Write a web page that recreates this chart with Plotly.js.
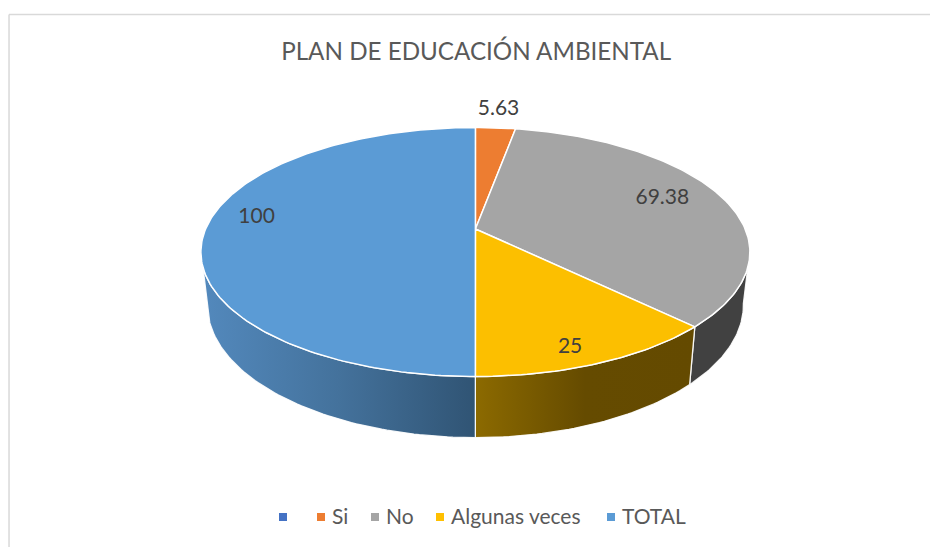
<!DOCTYPE html>
<html><head><meta charset="utf-8">
<script src="https://cdn.plot.ly/plotly-3.0.1.min.js"></script>
<style>html,body{margin:0;padding:0;background:#fff}#c{width:930px;height:547px}</style>
</head><body><div id="c"></div>
<script>
const categories = ["", "Si", "No", "Algunas veces", "TOTAL"];
const values = [0, 5.63, 69.38, 25, 100];
const labels = ["", "5.63", "69.38", "25", "100"];
const topColors = ["#4472C4", "#ED7D31", "#A5A5A5", "#FCBF00", "#5B9BD5"];
const legendColors = ["#4472C4", "#ED7D31", "#A5A5A5", "#FFC000", "#5B9BD5"];
const wallGradients = [
  null, null,
  [[0, "#414141"], [1, "#414141"]],
  [[0, "#8C6A00"], [0.5, "#654B00"], [1, "#644A00"]],
  [[0, "#5389BD"], [0.5, "#44729C"], [1, "#305474"]]
];
const labelRadius = [0, 1.24, 0.78, 0.875, 0.835];
const labelNudgeDeg = [0, -0.2, -3.5, 2.6, 7.6];
const keyX = [283, 321, 375, 440, 611];

// Tilted-disc view of the pie: projective map of a unit circle
const tilt = 0.185;
const topRim = {cx: 475.4, cy: 252, rx: 274.5, ry: 124.5};
const botRim = {cx: 475.4, cy: 305, rx: 268, ry: 132.6};
const wallFrom = 100, wallTo = 260;
const sum = values.reduce((a, b) => a + b, 0);

function project(deg, r, e) {
  const a = deg * Math.PI / 180, X = r * Math.sin(a), Y = r * Math.cos(a);
  const d = 1 + tilt * Y;
  return [e.cx + e.rx * X * Math.sqrt(1 - tilt * tilt) / d, e.cy - e.ry * (Y + tilt) / d];
}
function arc(from, to, e) {
  const pts = [], n = Math.max(2, Math.ceil(Math.abs(to - from)));
  for (let i = 0; i <= n; i++) pts.push(project(from + (to - from) * i / n, 1, e));
  return pts;
}
const spans = [];
let acc = 0;
values.forEach(v => { const s = acc / sum * 360; acc += v; spans.push([s, acc / sum * 360]); });

const traces = [];
// side walls
values.forEach((v, i) => {
  if (!wallGradients[i]) return;
  const a = Math.max(spans[i][0], wallFrom), b = Math.min(spans[i][1], wallTo);
  const pts = arc(a, b, topRim).concat(arc(b, a, botRim));
  pts.push(pts[0]);
  traces.push({type: "scatter", mode: "lines", x: pts.map(p => p[0]), y: pts.map(p => p[1]),
    fill: "toself", fillgradient: {type: "horizontal", colorscale: wallGradients[i]},
    line: {color: "rgba(255,255,255,0.9)", width: 1.3}, showlegend: false, hoverinfo: "skip"});
});
// top faces
values.forEach((v, i) => {
  if (v <= 0) return;
  const apex = project(0, 0, topRim);
  const pts = [apex].concat(arc(spans[i][0], spans[i][1], topRim), [apex]);
  traces.push({type: "scatter", mode: "lines", x: pts.map(p => p[0]), y: pts.map(p => p[1]),
    fill: "toself", fillcolor: topColors[i], line: {color: "#ffffff", width: 1.5},
    showlegend: false, name: categories[i], hoverinfo: "name"});
});
// data labels
const lab = values.map((v, i) => project((spans[i][0] + spans[i][1]) / 2 + labelNudgeDeg[i], labelRadius[i], topRim));
traces.push({type: "scatter", mode: "text", x: lab.map(p => p[0]), y: lab.map(p => p[1] + 2), text: labels,
  textposition: "middle center", textfont: {family: "Lato, Carlito, sans-serif", size: 21, color: "#404040"},
  showlegend: false, hoverinfo: "skip"});
// key along the bottom: swatches, then their names
categories.forEach((c, i) => traces.push({type: "scatter", mode: "markers", x: [keyX[i]], y: [517], name: c || " ",
  marker: {symbol: "square", size: 8, color: legendColors[i]}, showlegend: false, hoverinfo: "skip"}));
traces.push({type: "scatter", mode: "text", x: keyX.map(x => x + 11), y: keyX.map(() => 518.5),
  text: categories, textposition: "middle right",
  textfont: {family: "Lato, Carlito, sans-serif", size: 21, color: "#595959"},
  showlegend: false, hoverinfo: "skip"});

const layout = {
  width: 930, height: 547, margin: {l: 0, r: 0, t: 0, b: 0},
  paper_bgcolor: "#fff", plot_bgcolor: "#fff", showlegend: false,
  xaxis: {range: [0, 930], visible: false, fixedrange: true},
  yaxis: {range: [547, 0], visible: false, fixedrange: true},
  title: {text: "PLAN DE EDUCACIÓN AMBIENTAL", x: 0.512, xanchor: "center", y: 0.905, yanchor: "middle",
    font: {family: "Lato, Carlito, sans-serif", size: 24.2, color: "#595959"}},
  shapes: [
    {type: "line", xref: "paper", yref: "paper", x0: 0.0097, x1: 1, y0: 0.9735, y1: 0.9735, line: {color: "#d9d9d9", width: 1.5}},
    {type: "line", xref: "paper", yref: "paper", x0: 0.0097, x1: 0.0097, y0: 0, y1: 0.9735, line: {color: "#d9d9d9", width: 1.5}}
  ]
};
Plotly.newPlot("c", traces, layout, {displayModeBar: false, staticPlot: true});
</script></body></html>
